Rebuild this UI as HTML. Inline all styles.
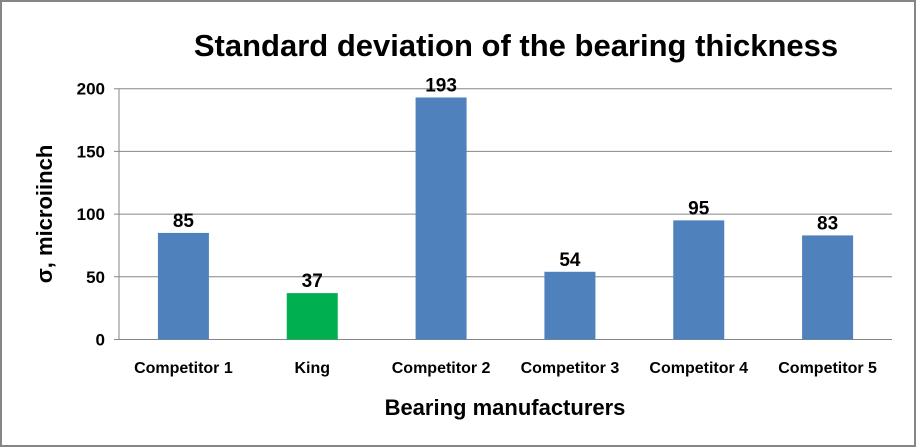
<!DOCTYPE html>
<html><head><meta charset="utf-8"><style>
html,body{margin:0;padding:0;background:#fff;}
svg{display:block;font-family:"Liberation Sans",Arial,sans-serif;}
</style></head><body>
<svg id="chart" width="916" height="447" viewBox="0 0 916 447">
<rect x="1" y="1" width="914" height="445" fill="#fff" stroke="#868686" stroke-width="2"/>
<text x="516" y="56" font-size="31" font-weight="bold" text-anchor="middle" fill="#000">Standard deviation of the bearing thickness</text>
<text transform="translate(52,214) rotate(-90)" font-size="22" font-weight="bold" text-anchor="middle" fill="#000">σ, microiinch</text>
<text x="505" y="415" font-size="22" font-weight="bold" text-anchor="middle" fill="#000">Bearing manufacturers</text>
<g id="grid"></g><g id="bars"></g><g id="labels"></g>
</svg>
<script>
const categories=["Competitor 1","King","Competitor 2","Competitor 3","Competitor 4","Competitor 5"];
const values=[85,37,193,54,95,83];
const barColors=["#4f81bd","#00b050","#4f81bd","#4f81bd","#4f81bd","#4f81bd"];
const yTicks=[0,50,100,150,200];
const NS="http://www.w3.org/2000/svg";
const x0=119,x1=892,y0=339.5,yTop=88.7,yMax=200;
const y=v=>y0-(v/yMax)*(y0-yTop);
const band=(x1-x0)/categories.length;
const xc=i=>x0+band*(i+0.5);
const bw=51;
function mk(tag,attrs,parent){const e=document.createElementNS(NS,tag);for(const k in attrs)e.setAttribute(k,attrs[k]);parent.appendChild(e);return e;}
const grid=document.getElementById('grid'),bars=document.getElementById('bars'),labels=document.getElementById('labels');
yTicks.forEach(t=>{
  const l=mk('line',{x1:x0-5,x2:x1,y1:y(t),y2:y(t),stroke:'#868686','stroke-width':1},grid);
  
  
  const tx=mk('text',{x:x0-14,y:y(t)+6,'font-size':17,'font-weight':'bold','text-anchor':'end'},grid);
  tx.textContent=t;
  
  
});
const ax=mk('line',{x1:x0,x2:x0,y1:yTop,y2:y0,stroke:'#868686','stroke-width':1},grid);


categories.forEach((c,i)=>{
  const r=mk('rect',{x:xc(i)-bw/2,y:y(values[i]),width:bw,height:y0-y(values[i]),fill:barColors[i]},bars);
  
  
  const v=mk('text',{x:xc(i),y:y(values[i])-6,'font-size':19,'font-weight':'bold','text-anchor':'middle'},labels);
  v.textContent=values[i];
  
  
  const cl=mk('text',{x:xc(i),y:373,'font-size':16,'font-weight':'bold','text-anchor':'middle'},labels);
  cl.textContent=c;
  
  
});
</script>
</body></html>
